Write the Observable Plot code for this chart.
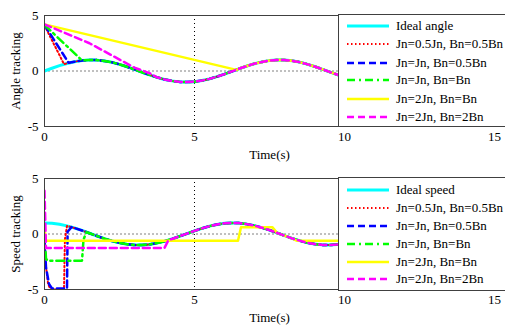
<!DOCTYPE html>
<html><head><meta charset="utf-8">
<script src="https://cdn.jsdelivr.net/npm/d3@7"></script>
<script src="https://cdn.jsdelivr.net/npm/@observablehq/plot@0.6"></script>
<style>
html,body{margin:0;padding:0;background:#fff;overflow:hidden}
#wrap{position:relative;width:505px;height:327px;font-family:"Times New Roman","Liberation Serif",Tinos,"DejaVu Serif",serif;overflow:hidden}
#wrap svg{display:block}
.legend{position:absolute;left:338px;width:180px;border:1px solid #404040;background:#fff;box-sizing:border-box}
.row{position:absolute;left:0;height:18px;display:flex;align-items:center;font-size:13px;white-space:nowrap;color:#000}
.row svg{margin-left:8px;margin-right:7px}
</style></head><body><div id="wrap"></div>
<script>
// ---- data ----
const xTicks = [0, 5, 10, 15];
const yTicks = [-5, 0, 5];
const T = [0,0.25,0.5,0.75,1,1.25,1.5,1.75,2,2.25,2.5,2.75,3,3.25,3.5,3.75,4,4.25,4.5,4.75,5,5.25,5.5,5.75,6,6.25,6.5,6.75,7,7.25,7.5,7.75,8,8.25,8.5,8.75,9,9.25,9.5,9.75,10];
const idealAngle = [0,0.25,0.48,0.68,0.84,0.95,1.00,0.98,0.91,0.78,0.60,0.38,0.14,-0.11,-0.35,-0.57,-0.76,-0.89,-0.98,-1.00,-0.96,-0.86,-0.71,-0.51,-0.28,-0.03,0.22,0.45,0.66,0.82,0.94,0.99,0.99,0.92,0.80,0.62,0.41,0.17,-0.08,-0.32,-0.54];
const idealSpeed = [1,0.97,0.88,0.73,0.54,0.32,0.07,-0.18,-0.42,-0.63,-0.80,-0.92,-0.99,-0.99,-0.94,-0.82,-0.65,-0.45,-0.21,0.04,0.28,0.51,0.71,0.86,0.96,1.00,0.98,0.89,0.75,0.57,0.35,0.11,-0.15,-0.39,-0.60,-0.78,-0.91,-0.98,-1.00,-0.95,-0.84];

// transient parts (time, value) and the time from which each curve follows the ideal one
const angleRedT = [0, 0.65], angleRedV = [4.1, 0.62], angleRedJoin = 0.75;
const angleBlueT = [0, 0.8], angleBlueV = [4.15, 0.75], angleBlueJoin = 1.0;
const angleGreenT = [0, 1.25], angleGreenV = [4.15, 0.95], angleGreenJoin = 1.5;
const angleYellowT = [0, 6.4], angleYellowV = [4.2, 0.1], angleYellowJoin = 6.5;
const angleMagentaT = [0, 1.5, 3.0, 3.5], angleMagentaV = [4.2, 2.5, 0.3, -0.2], angleMagentaJoin = 3.75;

const speedRedT = [0, 0.03, 0.12, 0.2, 0.65, 0.68, 0.75], speedRedV = [0, -2.5, -4.5, -5, -5, -0.5, 0.73], speedRedJoin = 1.0;
const speedBlueT = [0, 0.05, 0.15, 0.25, 0.75, 0.77, 0.9], speedBlueV = [-0.5, -3, -4.5, -4.9, -4.9, 0.2, 0.62], speedBlueJoin = 1.0;
const speedGreenT = [0, 0.05, 0.1, 1.25, 1.3, 1.4], speedGreenV = [0, -2.2, -2.4, -2.4, -0.5, 0.17], speedGreenJoin = 1.5;
const speedYellowT = [0, 0.05, 6.45, 6.55, 7.6, 7.75, 8.0, 8.25, 8.4, 10], speedYellowV = [0.5, -0.6, -0.6, 0.6, 0.6, 0.1, -0.15, -0.39, -0.6, -0.6], speedYellowJoin = null;
const speedMagentaT = [0, 0.05, 4.0, 4.13], speedMagentaV = [3.9, -1.25, -1.25, -0.55], speedMagentaJoin = 4.25;

const angleLabels = ["Ideal angle","Jn=0.5Jn, Bn=0.5Bn","Jn=Jn, Bn=0.5Bn","Jn=Jn, Bn=Bn","Jn=2Jn, Bn=Bn","Jn=2Jn, Bn=2Bn"];
const speedLabels = ["Ideal speed","Jn=0.5Jn, Bn=0.5Bn","Jn=Jn, Bn=0.5Bn","Jn=Jn, Bn=Bn","Jn=2Jn, Bn=Bn","Jn=2Jn, Bn=2Bn"];

// ---- styles ----
const FONT = '"Times New Roman","Liberation Serif",Tinos,"DejaVu Serif",serif';
const styles = [
  {stroke:"#00FFFF", strokeWidth:3, dash:null},
  {stroke:"#FF0000", strokeWidth:2, dash:"1.5,2.5"},
  {stroke:"#0000FF", strokeWidth:2.5, dash:"7,4"},
  {stroke:"#00FF00", strokeWidth:2.5, dash:"8,4,2,4"},
  {stroke:"#FFFF00", strokeWidth:2.5, dash:null},
  {stroke:"#FF00FF", strokeWidth:2.5, dash:"7,4"}
];

function pts(ts, vs) { return ts.map((t, i) => ({t, v: vs[i]})); }
function series(ts, vs, ideal, join) {
  const head = pts(ts, vs);
  if (join == null) return head;
  return head.concat(pts(T, ideal).filter(d => d.t >= join));
}

function panel(curves, ylabel) {
  return Plot.plot({
    width: 505, height: 163,
    marginLeft: 44, marginRight: 11, marginTop: 15, marginBottom: 37,
    style: {fontFamily: FONT, fontSize: "13px", color: "#000", background: "white"},
    x: {domain: [0, 15]},
    y: {domain: [-5, 5]},
    marks: [
      Plot.gridX([5, 10], {stroke: "#000", strokeOpacity: 1, strokeDasharray: "1,3"}),
      Plot.gridY([0], {stroke: "#808080", strokeOpacity: 1, strokeDasharray: "2,2"}),
      Plot.axisX({ticks: xTicks, tickSize: 0, tickPadding: 5, tickFormat: d => String(d),
        label: "Time(s)", labelAnchor: "center", labelArrow: "none", labelOffset: 32}),
      Plot.axisY({ticks: yTicks, tickSize: 0, tickPadding: 6, tickFormat: d => String(d),
        label: ylabel, labelAnchor: "center", labelArrow: "none", labelOffset: 34}),
      ...curves.map((data, i) => Plot.line(data, {
        x: "t", y: "v", stroke: styles[i].stroke, strokeWidth: styles[i].strokeWidth,
        strokeDasharray: styles[i].dash, clip: true
      })),
      Plot.frame({stroke: "#404040"})
    ]
  });
}

const angleCurves = [
  pts(T, idealAngle),
  series(angleRedT, angleRedV, idealAngle, angleRedJoin),
  series(angleBlueT, angleBlueV, idealAngle, angleBlueJoin),
  series(angleGreenT, angleGreenV, idealAngle, angleGreenJoin),
  series(angleYellowT, angleYellowV, idealAngle, angleYellowJoin),
  series(angleMagentaT, angleMagentaV, idealAngle, angleMagentaJoin)
];
const speedCurves = [
  pts(T, idealSpeed),
  series(speedRedT, speedRedV, idealSpeed, speedRedJoin),
  series(speedBlueT, speedBlueV, idealSpeed, speedBlueJoin),
  series(speedGreenT, speedGreenV, idealSpeed, speedGreenJoin),
  series(speedYellowT, speedYellowV, idealSpeed, speedYellowJoin),
  series(speedMagentaT, speedMagentaV, idealSpeed, speedMagentaJoin)
];

const wrap = document.getElementById("wrap");
wrap.appendChild(panel(angleCurves, "Angle tracking"));
wrap.appendChild(panel(speedCurves, "Speed tracking"));

function legend(labels, top, height, rowTops) {
  const box = document.createElement("div");
  box.className = "legend";
  box.style.top = top + "px";
  box.style.height = height + "px";
  labels.forEach((lab, i) => {
    const row = document.createElement("div");
    row.className = "row";
    row.style.top = rowTops[i] + "px";
    const s = styles[i];
    row.innerHTML = `<svg width="42" height="6"><line x1="0" x2="42" y1="3" y2="3" stroke="${s.stroke}" stroke-width="${s.strokeWidth}" ${s.dash ? `stroke-dasharray="${s.dash}"` : ""}/></svg><span>${lab}</span>`;
    box.appendChild(row);
  });
  wrap.appendChild(box);
}
legend(angleLabels, 14, 113, [2, 20, 39, 56, 75, 93]);
legend(speedLabels, 177, 114, [3, 21, 39, 57, 75, 92]);
</script>
</body></html>
